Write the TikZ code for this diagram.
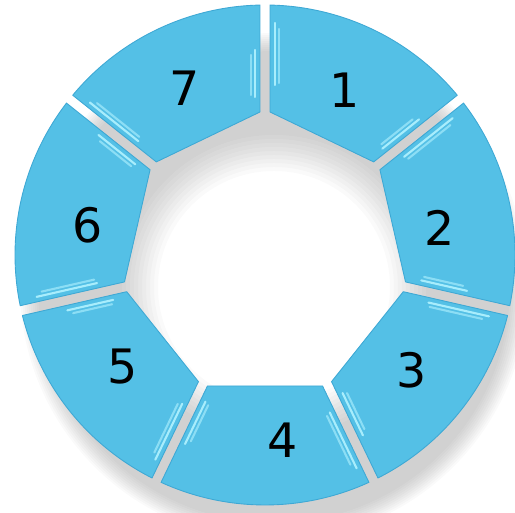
\documentclass[tikz,border=0pt]{standalone}
\usepackage{fontspec}
\newfontfamily\numfont{DejaVu Sans}
\usetikzlibrary{calc}
\definecolor{ringBlue}{RGB}{84,192,230}
\definecolor{ringEdge}{RGB}{62,168,212}
\definecolor{ringGlint}{RGB}{178,242,255}

\begin{document}
\begin{tikzpicture}[x=0.02cm, y=0.02cm,
  segment/.style={fill=ringBlue, draw=ringEdge, line width=0.5pt, line join=round},
  glint/.style={draw=ringGlint, line width=1.2pt, line cap=round, opacity=0.9},
  num/.style={font=\numfont\fontsize{27}{30}\selectfont, text=black},
]
\useasboundingbox (0,0) rectangle (515,513);
\coordinate (c) at (265,258);
\coordinate (sh) at (274,226);

% soft shadow under the ring
\foreach \k in {0,...,9}
  \fill[black, opacity=0.018, even odd rule]
    (sh) circle[radius=236+2*\k] (sh) circle[radius=152-4*\k];

% the seven segments
\foreach \i in {1,...,7} {
  \pgfmathsetmacro\a{90-(\i-1)*360/7}
  \pgfmathsetmacro\b{\a-360/7}
  \draw[segment] ($(c)+(\a-1.15:250)$)
      arc[start angle=\a-1.15, end angle=\b+1.15, radius=250]
      -- ($(c)+(\b:143)+(\b+90:5)$) -- ($(c)+(\a:143)+(\a-90:5)$) -- cycle;
  \draw[glint] ($(c)+(\a:170)+(\a-90:10)$) -- ($(c)+(\a:232)+(\a-90:10)$);
  \draw[glint, opacity=0.6] ($(c)+(\a:172)+(\a-90:14)$) -- ($(c)+(\a:226)+(\a-90:14)$);
  \draw[glint] ($(c)+(\b:158)+(\b+90:10)$) -- ($(c)+(\b:205)+(\b+90:10)$);
  \draw[glint, opacity=0.6] ($(c)+(\b:160)+(\b+90:14)$) -- ($(c)+(\b:200)+(\b+90:14)$);
}

% numbers
\foreach \i/\x/\y in {1/345/423, 2/440/285, 3/412/143, 4/283/73,
                      5/123/146, 6/88/288, 7/185/425}
  \node[num] (n\i) at (\x,\y) {\i};
\end{tikzpicture}
\end{document}
